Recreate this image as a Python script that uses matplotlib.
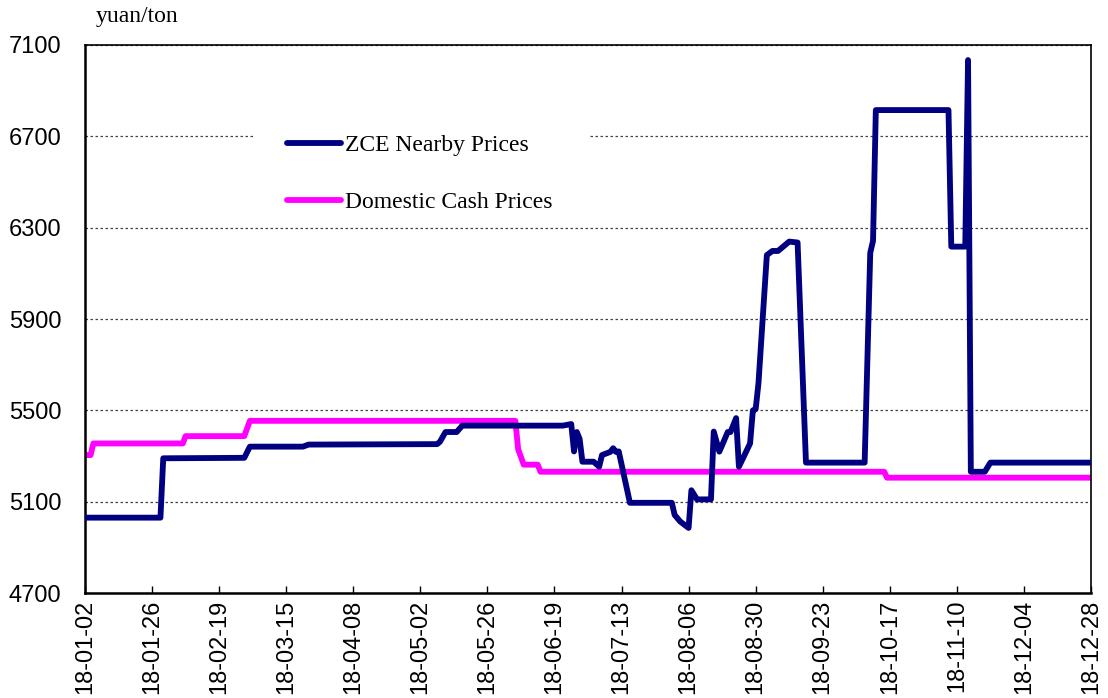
import numpy as np
import pandas as pd
import matplotlib
matplotlib.use("Agg")
import matplotlib.pyplot as plt
import matplotlib.dates as mdates
from matplotlib.patches import Rectangle

# ZCE nearby futures prices (yuan/ton)
zce_dates = ["2018-01-02", "2018-01-29", "2018-01-30", "2018-02-28", "2018-03-02",
             "2018-03-21", "2018-03-23", "2018-05-08", "2018-05-09", "2018-05-11",
             "2018-05-15", "2018-05-17", "2018-06-22", "2018-06-25", "2018-06-26",
             "2018-06-27", "2018-06-28", "2018-06-29", "2018-07-03", "2018-07-05",
             "2018-07-06", "2018-07-09", "2018-07-10", "2018-07-11", "2018-07-12",
             "2018-07-16", "2018-07-31", "2018-08-01", "2018-08-03", "2018-08-06",
             "2018-08-07", "2018-08-09", "2018-08-14", "2018-08-15", "2018-08-17",
             "2018-08-20", "2018-08-21", "2018-08-23", "2018-08-24", "2018-08-28",
             "2018-08-29", "2018-08-30", "2018-08-31", "2018-09-03", "2018-09-05",
             "2018-09-07", "2018-09-11", "2018-09-14", "2018-09-17", "2018-10-08",
             "2018-10-10", "2018-10-11", "2018-10-12", "2018-11-07", "2018-11-08",
             "2018-11-13", "2018-11-14", "2018-11-15", "2018-11-20", "2018-11-22",
             "2018-12-28"]
zce_values = [5030, 5030, 5290, 5292, 5341,
              5341, 5350, 5352, 5362, 5405,
              5405, 5433, 5433, 5440, 5320,
              5405, 5375, 5275, 5275, 5253,
              5304, 5318, 5334, 5318, 5320,
              5095, 5095, 5042, 5013, 4985,
              5150, 5110, 5110, 5407, 5319,
              5405, 5405, 5466, 5253, 5355,
              5500, 5505, 5618, 6180, 6198,
              6198, 6239, 6235, 5271, 5271,
              6190, 6242, 6815, 6815, 6217,
              6217, 7034, 5231, 5231, 5271,
              5271]

# domestic cash prices
cash_dates = ["2018-01-02", "2018-01-04", "2018-01-05", "2018-02-06", "2018-02-07",
              "2018-02-28", "2018-03-02", "2018-06-05", "2018-06-06", "2018-06-08",
              "2018-06-13", "2018-06-14", "2018-10-15", "2018-10-16", "2018-12-28"]
cash_values = [5304, 5304, 5355, 5355, 5387,
               5387, 5454, 5454, 5330, 5262,
               5262, 5231, 5231, 5205, 5205]

y_ticks = [4700, 5100, 5500, 5900, 6300, 6700, 7100]

# %%
fig = plt.figure(figsize=(11.08, 6.98), dpi=100)
ax = fig.add_axes([85 / 1108, 105 / 698, 1006 / 1108, 548 / 698])

ax.plot(pd.to_datetime(zce_dates), zce_values, color="#000080", lw=4.2,
        solid_joinstyle="round", solid_capstyle="round", label="ZCE Nearby Prices", zorder=3)
ax.plot(pd.to_datetime(cash_dates), cash_values, color="#FF00FF", lw=4.2,
        solid_joinstyle="round", solid_capstyle="round", label="Domestic Cash Prices", zorder=2)

start, end = pd.Timestamp("2018-01-02"), pd.Timestamp("2018-12-28")
ax.set_xlim(start, end)
ax.set_xticks(pd.date_range(start, end, freq="24D"))
ax.xaxis.set_major_formatter(mdates.DateFormatter("%y-%m-%d"))
ax.set_ylim(4700, 7100)
ax.set_yticks(y_ticks)

ax.grid(axis="y", color="#444444", ls=(0, (2, 2)), lw=0.9)
ax.set_axisbelow(True)

for lab in ax.get_xticklabels() + ax.get_yticklabels():
    lab.set_fontfamily("Liberation Sans")
    lab.set_fontsize(17)
ax.tick_params(axis="x", direction="in", length=5, width=1, pad=5, labelrotation=90)
ax.tick_params(axis="y", length=0, pad=17)

for s in ax.spines.values():
    s.set_color("black")
    s.set_linewidth(1.2)
ax.spines["left"].set_linewidth(1.8)
ax.spines["bottom"].set_linewidth(1.8)

# white box behind the legend hides the gridlines
ax.add_patch(Rectangle((0.167, 0.683), 0.335, 0.195, transform=ax.transAxes,
                       facecolor="white", edgecolor="none", zorder=1.8))
ax.legend(loc="center left", bbox_to_anchor=(0.2008, 0.765), frameon=False,
          prop={"family": "Liberation Serif", "size": 17}, borderpad=0, borderaxespad=0,
          handlelength=2.3, handletextpad=0.15, labelspacing=1.48)

fig.text(96 / 1108, 1 - 22 / 698, "yuan/ton", family="Liberation Serif", fontsize=17,
         ha="left", va="baseline")

fig.savefig("out.png", dpi=100)
